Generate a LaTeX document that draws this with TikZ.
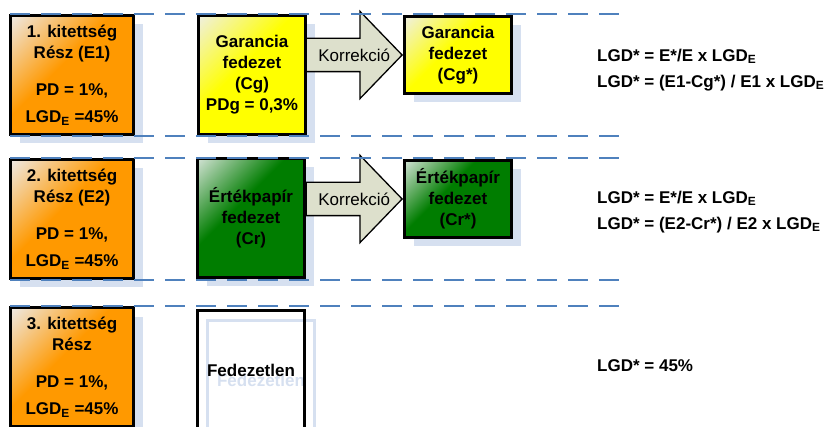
\documentclass[tikz,border=0pt]{standalone}
\usepackage{fontspec}
\setmainfont{Liberation Sans}
\usetikzlibrary{shapes.arrows,shadows}

\definecolor{sepblue}{RGB}{79,129,189}
\definecolor{shadowblue}{RGB}{214,224,240}
\definecolor{korrfill}{RGB}{221,224,204}
\definecolor{partorange}{RGB}{255,153,0}
\definecolor{orangelight}{RGB}{238,232,226}
\definecolor{guaryellow}{RGB}{255,255,0}
\definecolor{yellowlight}{RGB}{240,240,222}
\definecolor{secgreen}{RGB}{0,125,0}
\definecolor{greenlight}{RGB}{214,228,216}

\pgfdeclareverticalshading{orangeshade}{100bp}{color(0bp)=(partorange); color(56bp)=(partorange); color(85bp)=(orangelight); color(100bp)=(orangelight)}
\pgfdeclareverticalshading{yellowshade}{100bp}{color(0bp)=(guaryellow); color(56bp)=(guaryellow); color(85bp)=(yellowlight); color(100bp)=(yellowlight)}
\pgfdeclareverticalshading{greenshade}{100bp}{color(0bp)=(secgreen); color(58bp)=(secgreen); color(86bp)=(greenlight); color(100bp)=(greenlight)}

\begin{document}
\begin{tikzpicture}[x=1pt, y=-1pt,
	basebox/.style={draw=black, line width=3pt, align=center, inner sep=0pt,
		font=\bfseries\fontsize{17}{21}\selectfont},
	box/.style={basebox, drop shadow={shadow xshift=9pt, shadow yshift=-9pt, fill=shadowblue, opacity=1}},
	part/.style={box, minimum width=123pt, minimum height=119pt, shade, shading=orangeshade, shading angle=45},
	cover/.style={box, minimum width=107pt, minimum height=119pt},
	corrected/.style={box, minimum width=107pt, minimum height=77pt},
	yellowfill/.style={shade, shading=yellowshade, shading angle=45},
	greenfill/.style={shade, shading=greenshade, shading angle=45},
	korr/.style={single arrow, draw=black, line width=1.3pt, fill=korrfill, inner xsep=0pt, inner ysep=16pt,
		minimum height=96pt, single arrow head extend=27pt, single arrow tip angle=92},
	korrtext/.style={font=\fontsize{17}{20}\selectfont, inner sep=0pt},
	eq/.style={anchor=west, align=left, inner sep=0pt, font=\bfseries\fontsize{17}{26}\selectfont},
	sep/.style={draw=sepblue, line width=2.3pt, dash pattern=on 20pt off 11pt}]

	\useasboundingbox (0, 0) rectangle (829, 427);
	\clip (0, 0) rectangle (829, 427);

	% first row
	\node [part] (part1) at (72, 75) {1. kitettség\\Rész (E1)\\[16pt]PD = 1\%,\\[6pt]LGD\textsubscript{E} =45\%};
	\node [cover, yellowfill] (cg) at (252, 75) {Garancia\\fedezet\\(Cg)\\PDg = 0,3\%};
	\node [corrected, yellowfill] (cgs) at (458, 55) {Garancia\\fedezet\\(Cg*)};
	\node [korr, anchor=tip] (k1) at (cgs.west) {};
	\path (k1.tail) -- (k1.tip) node [midway, korrtext] (k1text) {Korrekció};
	\node [eq] (f1) at (597, 70) {LGD* = E*/E x LGD\textsubscript{E}\\LGD* = (E1-Cg*) / E1 x LGD\textsubscript{E}};

	% second row
	\node [part] (part2) at (72, 219) {2. kitettség\\Rész (E2)\\[16pt]PD = 1\%,\\[6pt]LGD\textsubscript{E} =45\%};
	\node [cover, greenfill] (cr) at (251, 218) {Értékpapír\\fedezet\\(Cr)};
	\node [corrected, greenfill] (crs) at (458, 199) {Értékpapír\\fedezet\\(Cr*)};
	\node [korr, anchor=tip] (k2) at (crs.west) {};
	\path (k2.tail) -- (k2.tip) node [midway, korrtext] (k2text) {Korrekció};
	\node [eq] (f2) at (597, 212) {LGD* = E*/E x LGD\textsubscript{E}\\LGD* = (E2-Cr*) / E2 x LGD\textsubscript{E}};

	% third row
	\node [part] (part3) at (72, 367) {3. kitettség\\Rész\\[16pt]PD = 1\%,\\[6pt]LGD\textsubscript{E} =45\%};
	\node [basebox, draw=shadowblue, text=shadowblue, minimum width=107pt, minimum height=119pt] (uncshadow) at (261, 380) {Fedezetlen};
	\node [basebox, minimum width=107pt, minimum height=119pt] (unc) at (251, 370) {Fedezetlen};
	\node [eq] (f3) at (597, 366) {LGD* = 45\%};

	% separators
	\draw [sep] (10, 14) -- (622, 14);
	\draw [sep] (10, 136) -- (622, 136);
	\draw [sep] (10, 158) -- (622, 158);
	\draw [sep] (10, 280) -- (622, 280);
	\draw [sep] (10, 306) -- (622, 306);
\end{tikzpicture}
\end{document}
